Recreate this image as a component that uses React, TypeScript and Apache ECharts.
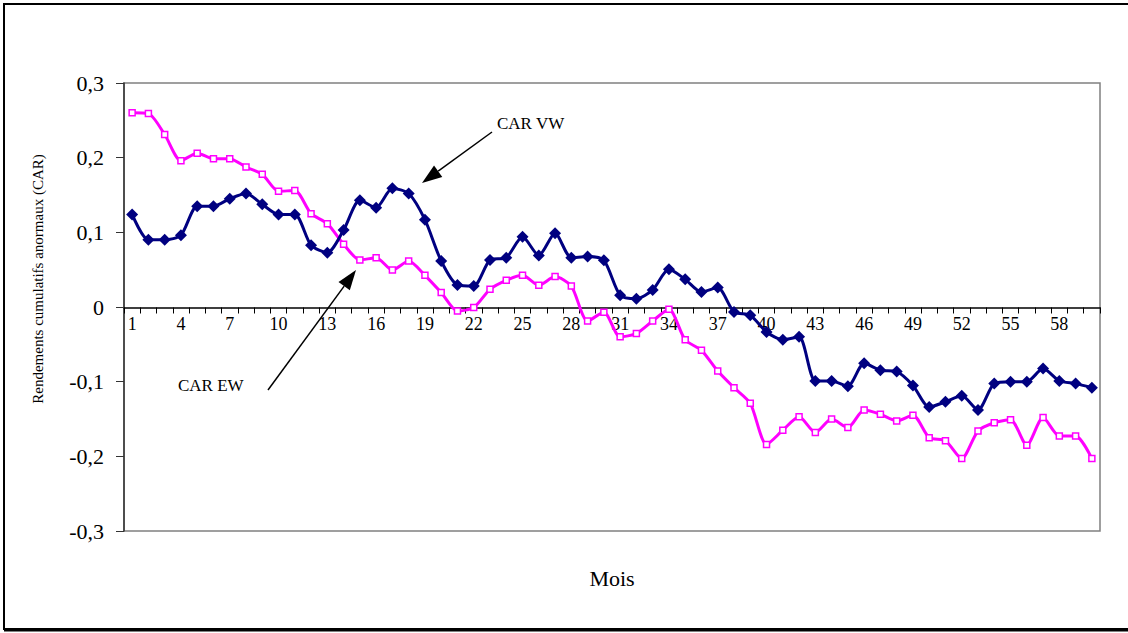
import React, { useEffect, useRef } from "react";
import * as echarts from "echarts";

const months: string[] = Array.from({ length: 60 }, (_, i) => String(i + 1));

const carVW: number[] = [
  0.124, 0.09, 0.09, 0.096, 0.135, 0.135, 0.145, 0.152, 0.1375, 0.124,
  0.124, 0.0826, 0.0728, 0.103, 0.143, 0.133, 0.159, 0.152, 0.117, 0.0616,
  0.0295, 0.028, 0.063, 0.066, 0.094, 0.069, 0.0987, 0.066, 0.0675, 0.0625,
  0.0157, 0.011, 0.0228, 0.0505, 0.037, 0.02, 0.026, -0.0067, -0.011, -0.0335,
  -0.044, -0.04, -0.099, -0.099, -0.106, -0.0754, -0.0847, -0.0865, -0.105, -0.134,
  -0.127, -0.119, -0.138, -0.1026, -0.1, -0.1, -0.0825, -0.099, -0.1026, -0.108,
];

const carEW: number[] = [
  0.26, 0.259, 0.231, 0.196, 0.206, 0.1987, 0.1987, 0.1875, 0.1777, 0.155,
  0.156, 0.125, 0.1116, 0.084, 0.063, 0.066, 0.0495, 0.0616, 0.0424, 0.0193,
  -0.0054, -0.0008, 0.0237, 0.0357, 0.0424, 0.029, 0.0407, 0.028, -0.0187, -0.007,
  -0.04, -0.0356, -0.0187, -0.003, -0.044, -0.058, -0.0857, -0.108, -0.129, -0.184,
  -0.165, -0.147, -0.168, -0.15, -0.1615, -0.138, -0.1437, -0.1526, -0.145, -0.175,
  -0.179, -0.203, -0.166, -0.155, -0.151, -0.185, -0.148, -0.1727, -0.1727, -0.203,
];

const serif = "Times New Roman, serif";

function arrow(x0: number, y0: number, tx: number, ty: number, len: number, hw: number) {
  const dx = tx - x0;
  const dy = ty - y0;
  const d = Math.sqrt(dx * dx + dy * dy);
  const ux = dx / d;
  const uy = dy / d;
  const bx = tx - ux * len;
  const by = ty - uy * len;
  const px = -uy * hw;
  const py = ux * hw;
  return [
    {
      type: "line",
      shape: { x1: x0, y1: y0, x2: bx, y2: by },
      style: { stroke: "#000", lineWidth: 1.5 },
      silent: true,
    },
    {
      type: "polygon",
      shape: { points: [[tx, ty], [bx + px, by + py], [bx - px, by - py]] },
      style: { fill: "#000" },
      silent: true,
    },
  ];
}

const textStyle = (text: string, size: number, align: string) => ({
  text,
  fontFamily: serif,
  fontSize: size,
  fill: "#000",
  align,
  verticalAlign: "middle",
});

export default function App() {
  const ref = useRef<HTMLDivElement>(null);
  useEffect(() => {
    if (!ref.current) return;
    const chart = echarts.init(ref.current, null, { renderer: "svg" });
    chart.setOption({
      animation: false,
      backgroundColor: "#fff",
      grid: {
        left: 124,
        right: 28,
        top: 83,
        bottom: 102,
        show: true,
        borderColor: "#808080",
        borderWidth: 1.5,
        backgroundColor: "transparent",
      },
      xAxis: {
        type: "category",
        data: months,
        boundaryGap: true,
        position: "bottom",
        offset: -223.5,
        axisLine: { onZero: false, lineStyle: { color: "#000", width: 1.5 } },
        axisTick: { show: true, interval: 0, length: 6, lineStyle: { color: "#000" } },
        axisLabel: {
          interval: 2,
          fontFamily: serif,
          fontSize: 18,
          color: "#000",
          margin: 7,
        },
        splitLine: { show: false },
      },
      yAxis: {
        type: "value",
        min: -0.3,
        max: 0.3,
        interval: 0.1,
        axisLine: { show: true, lineStyle: { color: "#333", width: 1.5 } },
        axisTick: { show: true, length: 8, lineStyle: { color: "#333" } },
        splitLine: { show: false },
        axisLabel: {
          fontFamily: serif,
          fontSize: 22,
          color: "#000",
          margin: 20,
          formatter: (v: number) => {
            const r = Math.round(v * 10) / 10;
            if (r === 0) return "0";
            return r.toFixed(1).replace(".", ",");
          },
        },
      },
      series: [
        {
          name: "CAR VW",
          type: "line",
          data: carVW,
          smooth: 0.25,
          showAllSymbol: true,
          symbol: "diamond",
          symbolSize: 12,
          lineStyle: { color: "#000080", width: 3 },
          itemStyle: { color: "#000080" },
          z: 3,
        },
        {
          name: "CAR EW",
          type: "line",
          data: carEW,
          smooth: 0.25,
          showAllSymbol: true,
          symbol: "rect",
          symbolSize: 6,
          lineStyle: { color: "#FF00FF", width: 3 },
          itemStyle: { color: "#fff", borderColor: "#FF00FF", borderWidth: 1.5 },
          z: 2,
        },
      ],
      graphic: [
        {
          type: "rect",
          shape: { x: 4, y: 4, width: 1140, height: 625 },
          style: { fill: "none", stroke: "#000", lineWidth: 2 },
          silent: true,
        },
        {
          type: "line",
          shape: { x1: 4, y1: 630, x2: 1128, y2: 630 },
          style: { stroke: "#000", lineWidth: 3 },
          silent: true,
        },
        { type: "text", x: 612, y: 578, style: textStyle("Mois", 22, "center") },
        {
          type: "text",
          x: 38,
          y: 279,
          rotation: Math.PI / 2,
          style: textStyle("Rendements cumulatifs anormaux (CAR)", 15, "center"),
        },
        { type: "text", x: 497, y: 123, style: textStyle("CAR VW", 17, "left") },
        { type: "text", x: 178, y: 385, style: textStyle("CAR EW", 17, "left") },
        ...arrow(492, 132, 422, 183, 20, 7),
        ...arrow(268, 390, 356, 270, 20, 7),
      ],
    });
    return () => chart.dispose();
  }, []);
  return (
    <div
      ref={ref}
      style={{ position: "fixed", left: 0, top: 0, width: 1128, height: 633 }}
    />
  );
}
